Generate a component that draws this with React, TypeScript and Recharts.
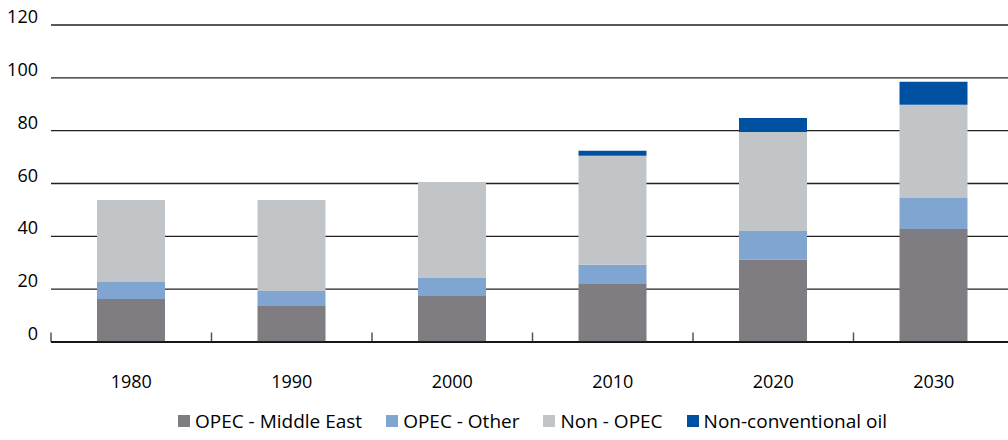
import { Bar, BarChart, CartesianGrid, Legend, ReferenceLine, XAxis, YAxis } from "recharts";

const years = ["1980", "1990", "2000", "2010", "2020", "2030"];
const opecMiddleEast = [16.3, 13.6, 17.4, 22.0, 31.1, 42.8];
const opecOther = [6.4, 5.7, 6.8, 7.2, 10.9, 11.7];
const nonOpec = [31.1, 34.5, 36.4, 41.3, 37.5, 35.3];
const nonConventional = [0, 0, 0, 1.9, 5.3, 8.7];
const yTicks = [0, 20, 40, 60, 80, 100, 120];
// height of the small separator ticks, in y units
const EDGE_TICK_HEIGHT = 3.6;

const COLORS = {
  me: "#807d82",
  other: "#80a5d0",
  nonOpec: "#c1c5c8",
  nonConv: "#0050a2",
  grid: "#231f20",
  text: "#000000",
};

const SERIES = [
  { key: "me", name: "OPEC - Middle East", color: COLORS.me },
  { key: "other", name: "OPEC - Other", color: COLORS.other },
  { key: "nonOpec", name: "Non - OPEC", color: COLORS.nonOpec },
  { key: "nonConv", name: "Non-conventional oil", color: COLORS.nonConv },
];

const FONT = "'Open Sans', 'Noto Sans', sans-serif";

const data = years.map((year, i) => ({
  year,
  me: opecMiddleEast[i],
  other: opecOther[i],
  nonOpec: nonOpec[i],
  nonConv: nonConventional[i],
}));

function YTick({ x, y, payload }: any) {
  return (
    <text x={x} y={y} dy={-2} textAnchor="end" fill={COLORS.text} fontSize={18} fontFamily={FONT}>
      {payload.value}
    </text>
  );
}

function XTick({ x, y, payload }: any) {
  return (
    <text x={x} y={y + 46} textAnchor="middle" fill={COLORS.text} fontSize={18} fontFamily={FONT}>
      {payload.value}
    </text>
  );
}

function LegendContent() {
  return (
    <div
      style={{
        height: 38,
        paddingLeft: 51,
        display: "flex",
        alignItems: "center",
        justifyContent: "center",
        fontFamily: FONT,
        fontSize: 19,
        color: COLORS.text,
      }}
    >
      {SERIES.map((s, i) => (
        <div
          key={s.key}
          style={{ display: "flex", alignItems: "center", marginRight: i < SERIES.length - 1 ? 24 : 0 }}
        >
          <span style={{ width: 12, height: 12, background: s.color, marginRight: 5, display: "inline-block" }} />
          <span>{s.name}</span>
        </div>
      ))}
    </div>
  );
}

export default function App() {
  return (
    <div style={{ position: "absolute", left: 0, top: 0, width: 1008, height: 440, overflow: "hidden", background: "#fff" }}>
      <BarChart
        width={1014}
        height={440}
        data={data}
        margin={{ top: 25, right: 0, left: 0, bottom: 0 }}
        barCategoryGap={0}
      >
        <CartesianGrid xAxisId="cat" vertical={false} stroke={COLORS.grid} strokeWidth={1.4} />
        <XAxis
          xAxisId="cat"
          dataKey="year"
          height={60}
          axisLine={{ stroke: "#000", strokeWidth: 1.5 }}
          tickLine={false}
          tickSize={0}
          tickMargin={0}
          tick={<XTick />}
          interval={0}
        />
        <YAxis
          width={51}
          domain={[0, 120]}
          ticks={yTicks}
          axisLine={false}
          tickLine={false}
          tickSize={0}
          tickMargin={13}
          tick={<YTick />}
        />
        <Legend verticalAlign="bottom" content={<LegendContent />} />
        {SERIES.map((s) => (
          <Bar
            key={s.key}
            xAxisId="cat"
            dataKey={s.key}
            name={s.name}
            stackId="a"
            fill={s.color}
            barSize={68}
            isAnimationActive={false}
          />
        ))}
        {years.map((year) => (
          <ReferenceLine
            key={year}
            xAxisId="cat"
            position="start"
            segment={[
              { x: year, y: 0 },
              { x: year, y: EDGE_TICK_HEIGHT },
            ]}
            stroke="#555"
            strokeWidth={1.5}
          />
        ))}
      </BarChart>
    </div>
  );
}
